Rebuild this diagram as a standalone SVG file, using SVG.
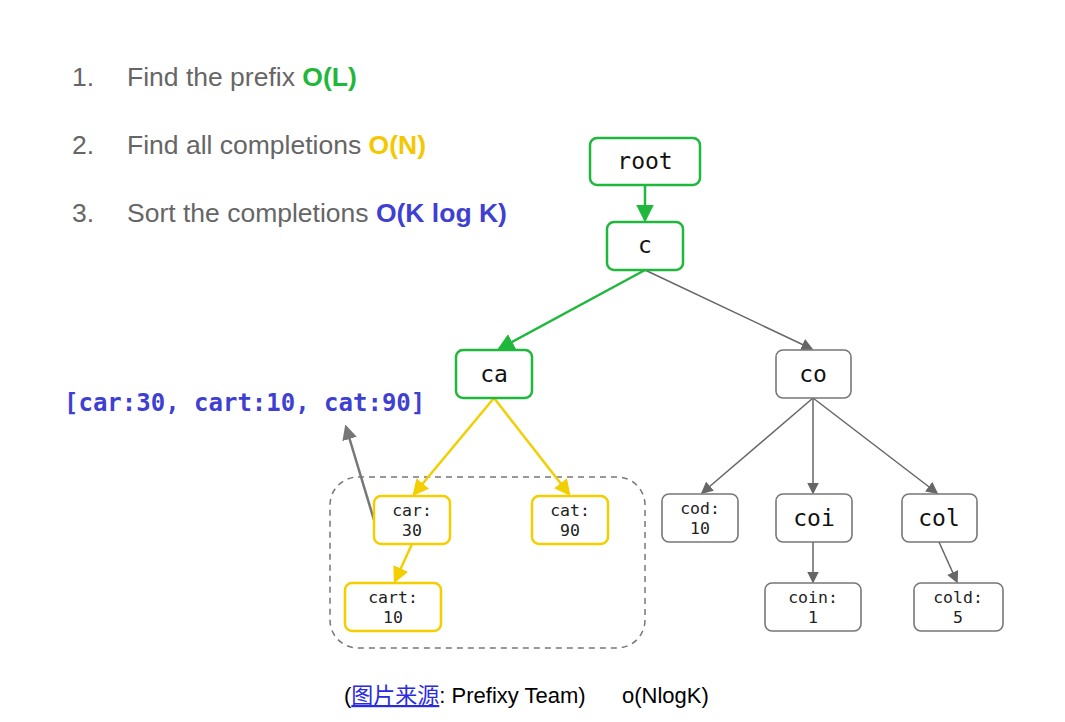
<svg xmlns="http://www.w3.org/2000/svg" width="1065" height="722" viewBox="0 0 1065 722">
<style>
.step{font-family:"Liberation Sans",Arial,sans-serif;font-size:26.5px;fill:#666}
.g{fill:#1fb83c;font-weight:bold}
.y{fill:#f3c800;font-weight:bold}
.b{fill:#3f3fd2;font-weight:bold}
.n rect{fill:#fff;stroke-width:2.5}
.green rect{stroke:#1fb83c}
.yel rect{stroke:#f3ce00}
.gray rect{stroke:#777;stroke-width:1.6}
.big{font-family:"DejaVu Sans Mono","Liberation Mono",monospace;font-size:23px;fill:#111;text-anchor:middle}
.sm{font-family:"DejaVu Sans Mono","Liberation Mono",monospace;font-size:16.5px;fill:#222;text-anchor:middle}
.eg{stroke:#1fb83c;stroke-width:2.5;fill:none}
.ey{stroke:#f3ce00;stroke-width:2.5;fill:none}
.ea{stroke:#666;stroke-width:1.5;fill:none}
.cap{font-family:"Liberation Sans",Arial,"Noto Sans CJK SC",sans-serif;font-size:22px;fill:#000}
</style>
<defs>
<marker id="mg" markerWidth="7" markerHeight="7" refX="6" refY="3.5" orient="auto" markerUnits="strokeWidth" viewBox="0 0 7 7"><path d="M0,0 L7,3.5 L0,7 z" fill="#1fb83c"/></marker>
<marker id="my" markerWidth="6.5" markerHeight="6.5" refX="5.5" refY="3.25" orient="auto" markerUnits="strokeWidth" viewBox="0 0 6.5 6.5"><path d="M0,0 L6.5,3.25 L0,6.5 z" fill="#f3ce00"/></marker>
<marker id="ma" markerWidth="8" markerHeight="8" refX="7" refY="4" orient="auto" markerUnits="strokeWidth" viewBox="0 0 8 8"><path d="M0,0 L8,4 L0,8 z" fill="#666"/></marker>
<marker id="mb" markerWidth="6" markerHeight="6" refX="5" refY="3" orient="auto" markerUnits="strokeWidth" viewBox="0 0 6 6"><path d="M0,0 L6,3 L0,6 z" fill="#777"/></marker>
</defs>
<rect width="1065" height="722" fill="#fff"/>

<g id="steps">
<text class="step" x="72" y="86">1.</text>
<text class="step" x="127" y="86">Find the prefix <tspan class="g">O(L)</tspan></text>
<text class="step" x="72" y="154">2.</text>
<text class="step" x="127" y="154">Find all completions <tspan class="y">O(N)</tspan></text>
<text class="step" x="72" y="222">3.</text>
<text class="step" x="127" y="222">Sort the completions <tspan class="b">O(K log K)</tspan></text>
</g>

<g id="result">
<text x="64" y="411" font-family="DejaVu Sans Mono,Liberation Mono,monospace" font-size="24" font-weight="bold" fill="#3f3fd2">[car:30, cart:10, cat:90]</text>
</g>

<g id="group-box">
<rect x="330" y="477" width="315" height="171" rx="28" fill="none" stroke="#777" stroke-width="1.5" stroke-dasharray="6,5"/>
</g>

<g id="connectors">
<line class="eg" x1="645" y1="185" x2="645" y2="220" marker-end="url(#mg)"/>
<line class="eg" x1="645" y1="270" x2="499" y2="349" marker-end="url(#mg)"/>
<line class="ea" x1="645" y1="270" x2="812" y2="349" marker-end="url(#ma)"/>
<line class="ey" x1="494" y1="398" x2="414" y2="494" marker-end="url(#my)"/>
<line class="ey" x1="494" y1="398" x2="569" y2="494" marker-end="url(#my)"/>
<line class="ey" x1="412" y1="544" x2="395" y2="581" marker-end="url(#my)"/>
<line class="ea" x1="813" y1="398" x2="702" y2="493" marker-end="url(#ma)"/>
<line class="ea" x1="813" y1="398" x2="813" y2="493" marker-end="url(#ma)"/>
<line class="ea" x1="813" y1="398" x2="937" y2="493" marker-end="url(#ma)"/>
<line class="ea" x1="813" y1="542" x2="813" y2="582" marker-end="url(#ma)"/>
<line class="ea" x1="939" y1="542" x2="957" y2="582" marker-end="url(#ma)"/>
<line x1="374" y1="520" x2="346" y2="427" stroke="#777" stroke-width="2.5" marker-end="url(#mb)"/>
</g>

<g id="n-root" class="n green"><rect x="590" y="138" width="110" height="47" rx="7"/><text class="big" x="645" y="169">root</text></g>
<g id="n-c" class="n green"><rect x="607" y="222" width="76" height="48" rx="7"/><text class="big" x="645" y="253">c</text></g>
<g id="n-ca" class="n green"><rect x="456" y="350" width="76" height="48" rx="7"/><text class="big" x="494" y="382">ca</text></g>
<g id="n-co" class="n gray"><rect x="776" y="350" width="75" height="48" rx="7"/><text class="big" x="813" y="382">co</text></g>
<g id="n-car" class="n yel"><rect x="374" y="496" width="76" height="48" rx="7"/><text class="sm" x="412" y="516">car:</text><text class="sm" x="412" y="536">30</text></g>
<g id="n-cat" class="n yel"><rect x="532" y="496" width="76" height="48" rx="7"/><text class="sm" x="570" y="516">cat:</text><text class="sm" x="570" y="536">90</text></g>
<g id="n-cart" class="n yel"><rect x="345" y="583" width="96" height="48" rx="7"/><text class="sm" x="393" y="603">cart:</text><text class="sm" x="393" y="623">10</text></g>
<g id="n-cod" class="n gray"><rect x="662" y="494" width="76" height="48" rx="7"/><text class="sm" x="700" y="514">cod:</text><text class="sm" x="700" y="534">10</text></g>
<g id="n-coi" class="n gray"><rect x="776" y="494" width="76" height="48" rx="7"/><text class="big" x="814" y="526">coi</text></g>
<g id="n-col" class="n gray"><rect x="902" y="494" width="75" height="48" rx="7"/><text class="big" x="939" y="526">col</text></g>
<g id="n-coin" class="n gray"><rect x="765" y="583" width="96" height="48" rx="7"/><text class="sm" x="813" y="603">coin:</text><text class="sm" x="813" y="623">1</text></g>
<g id="n-cold" class="n gray"><rect x="914" y="583" width="89" height="48" rx="7"/><text class="sm" x="958" y="603">cold:</text><text class="sm" x="958" y="623">5</text></g>

<g id="caption">
<text class="cap" x="344" y="703">(<tspan fill="#2a2ae0" text-decoration="underline">图片来源</tspan>: Prefixy Team)</text>
<text class="cap" x="622" y="703">o(NlogK)</text>
</g>
</svg>
